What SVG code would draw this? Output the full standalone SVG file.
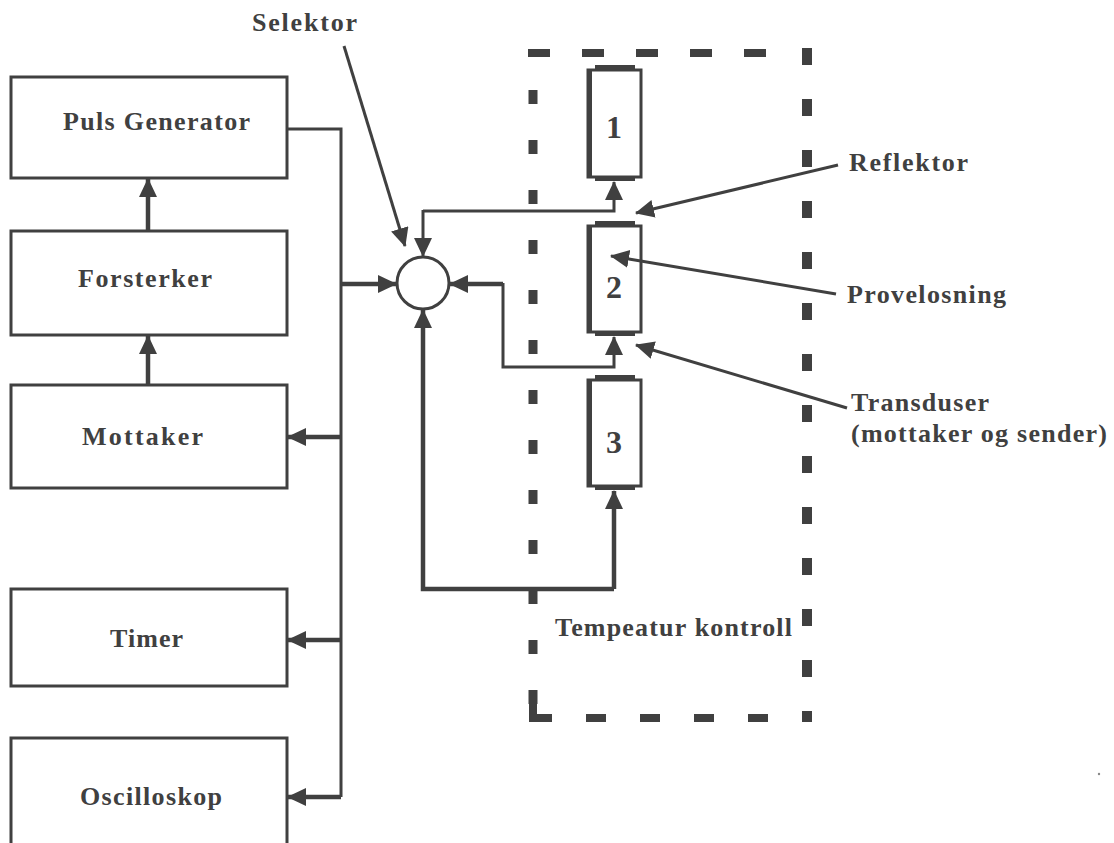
<svg xmlns="http://www.w3.org/2000/svg" width="1114" height="843" viewBox="0 0 1114 843">
<style>
.box{fill:#fff;stroke:#404040;stroke-width:3}
.t{font-family:"Liberation Serif","Times New Roman",serif;font-weight:bold;font-size:26px;fill:#404040}
.num{font-family:"Liberation Serif","Times New Roman",serif;font-weight:bold;font-size:32px;fill:#404040;text-anchor:middle}
.thin{fill:none;stroke:#404040;stroke-width:3}
.thick{fill:none;stroke:#404040;stroke-width:4.5}
.dash{fill:none;stroke:#404040}
.cap{fill:#404040}
</style>
<defs>
<marker id="ah" markerUnits="userSpaceOnUse" markerWidth="22" markerHeight="20" refX="18" refY="9" orient="auto">
<path d="M0,0 L19,9 L0,18 z" fill="#404040"/>
</marker>
</defs>
<rect width="1114" height="843" fill="#fff"/>

<g id="temp-control">
<line class="dash" x1="528" y1="53" x2="790" y2="53" stroke-width="8" stroke-dasharray="22 32"/>
<line class="dash" x1="533" y1="90" x2="533" y2="706" stroke-width="9" stroke-dasharray="14 36"/>
<path class="dash" d="M533,698 L533,718 L552,718" stroke-width="8"/>
<line class="dash" x1="586" y1="718" x2="780" y2="718" stroke-width="8" stroke-dasharray="20 34"/>
<line class="dash" x1="807" y1="48" x2="807" y2="722" stroke-width="10" stroke-dasharray="17 34"/>
<text class="t" x="555" y="636" textLength="237" lengthAdjust="spacing">Tempeatur kontroll</text>
</g>

<g id="node-puls">
<rect class="box" x="11" y="77" width="276" height="101"/>
<text class="t" x="63" y="130" textLength="187" lengthAdjust="spacing">Puls Generator</text>
</g>
<g id="node-forsterker">
<rect class="box" x="11" y="231" width="276" height="104"/>
<text class="t" x="78" y="287" textLength="134" lengthAdjust="spacing">Forsterker</text>
</g>
<g id="node-mottaker">
<rect class="box" x="11" y="385" width="276" height="103"/>
<text class="t" x="82" y="445" textLength="121" lengthAdjust="spacing">Mottaker</text>
</g>
<g id="node-timer">
<rect class="box" x="11" y="589" width="276" height="97"/>
<text class="t" x="110" y="647" textLength="73" lengthAdjust="spacing">Timer</text>
</g>
<g id="node-oscilloskop">
<rect class="box" x="11" y="738" width="276" height="120"/>
<text class="t" x="80" y="805" textLength="142" lengthAdjust="spacing">Oscilloskop</text>
</g>

<g id="node-selektor">
<circle cx="423" cy="283" r="26" fill="#fff" stroke="#404040" stroke-width="3"/>
</g>

<g id="node-1">
<rect class="box" x="588" y="70" width="53" height="107"/>
<rect class="cap" x="587" y="70" width="5" height="108"/>
<rect class="cap" x="595" y="65" width="40" height="5"/>
<rect class="cap" x="595" y="177" width="40" height="4"/>
<text class="num" x="614" y="138">1</text>
</g>
<g id="node-2">
<rect class="box" x="588" y="226" width="53" height="106"/>
<rect class="cap" x="587" y="226" width="5" height="107"/>
<rect class="cap" x="595" y="221" width="40" height="5"/>
<rect class="cap" x="595" y="332" width="40" height="4"/>
<text class="num" x="614" y="298">2</text>
</g>
<g id="node-3">
<rect class="box" x="588" y="380" width="53" height="106"/>
<rect class="cap" x="587" y="380" width="5" height="107"/>
<rect class="cap" x="595" y="375" width="40" height="5"/>
<rect class="cap" x="595" y="486" width="40" height="4"/>
<text class="num" x="614" y="453">3</text>
</g>

<g id="connectors">
<path class="thin" d="M287,129 L341,129 L341,797"/>
<line class="thick" x1="341" y1="284" x2="396" y2="284" marker-end="url(#ah)"/>
<line class="thick" x1="341" y1="437" x2="288" y2="437" marker-end="url(#ah)"/>
<line class="thick" x1="341" y1="640" x2="288" y2="640" marker-end="url(#ah)"/>
<line class="thick" x1="341" y1="797" x2="288" y2="797" marker-end="url(#ah)"/>
<line class="thick" x1="148" y1="231" x2="148" y2="179" marker-end="url(#ah)"/>
<line class="thick" x1="148" y1="385" x2="148" y2="336" marker-end="url(#ah)"/>
<path class="thin" d="M423,211 L614,211 L614,182" marker-end="url(#ah)"/>
<line class="thin" x1="423" y1="210" x2="423" y2="256" marker-end="url(#ah)"/>
<line class="thick" x1="503" y1="284" x2="450" y2="284" marker-end="url(#ah)"/>
<path class="thin" d="M503,283 L503,367 L614,367 L614,337" marker-end="url(#ah)"/>
<path class="thick" d="M614,589 L423,589 L423,310" marker-end="url(#ah)"/>
<line class="thick" x1="614" y1="589" x2="614" y2="491" marker-end="url(#ah)"/>
<line class="thin" x1="344" y1="46" x2="405" y2="246" marker-end="url(#ah)"/>
<line class="thin" x1="838" y1="165" x2="636" y2="213" marker-end="url(#ah)"/>
<line class="thin" x1="836" y1="294" x2="611" y2="256" marker-end="url(#ah)"/>
<line class="thin" x1="847" y1="408" x2="636" y2="345" marker-end="url(#ah)"/>
</g>

<g id="labels">
<text class="t" x="252" y="31" textLength="105" lengthAdjust="spacing">Selektor</text>
<text class="t" x="849" y="171" textLength="119" lengthAdjust="spacing">Reflektor</text>
<text class="t" x="847" y="303" textLength="159" lengthAdjust="spacing">Provelosning</text>
<text class="t" x="851" y="411" textLength="138" lengthAdjust="spacing">Transduser</text>
<text class="t" x="851" y="442" textLength="256" lengthAdjust="spacing">(mottaker og sender)</text>
</g>
<circle cx="1099" cy="774" r="1.2" fill="#888"/>
</svg>
